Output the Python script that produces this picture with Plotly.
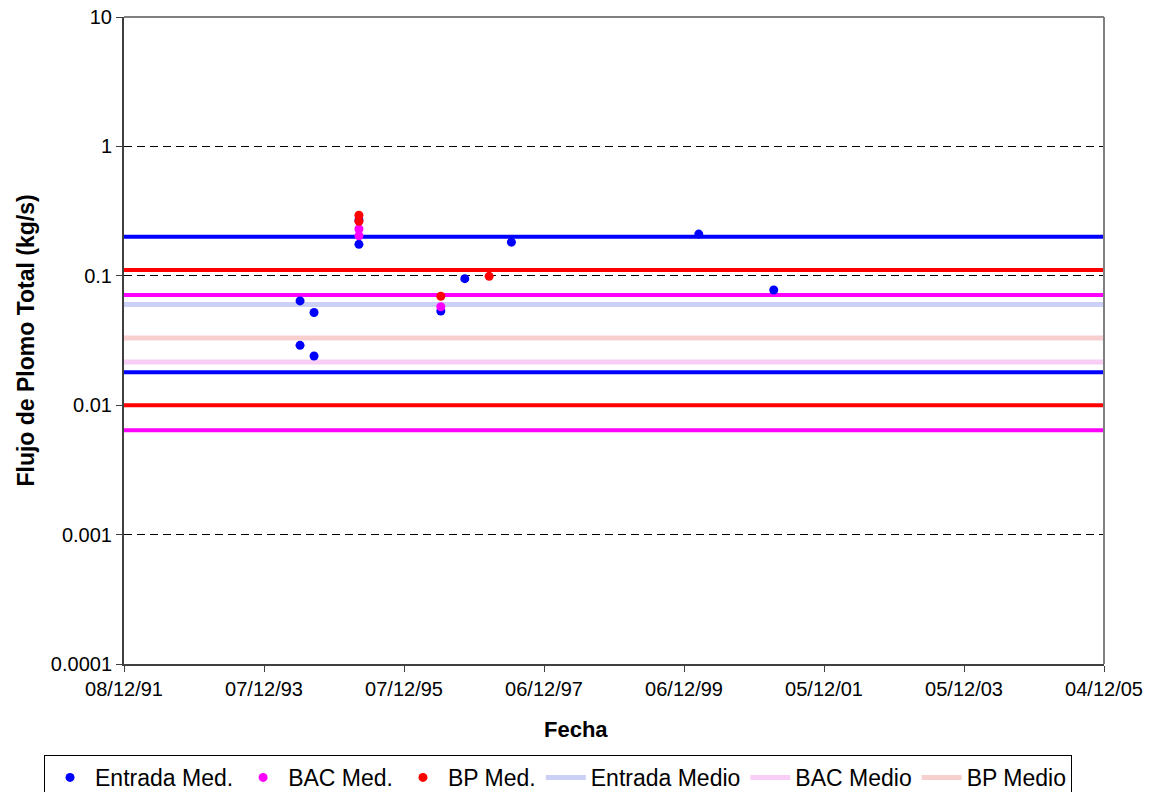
import plotly.graph_objects as go

# ---- data ----
x_start = "1991-12-08"
x_end = "2005-12-04"
x_tick_dates = ["1991-12-08", "1993-12-07", "1995-12-07", "1997-12-06",
                "1999-12-06", "2001-12-05", "2003-12-05", "2005-12-04"]
x_tick_labels = ["08/12/91", "07/12/93", "07/12/95", "06/12/97",
                 "06/12/99", "05/12/01", "05/12/03", "04/12/05"]
y_tick_vals = [0.0001, 0.001, 0.01, 0.1, 1, 10]
y_tick_labels = ["0.0001", "0.001", "0.01", "0.1", "1", "10"]

entrada_dates = ["1994-06-13", "1994-06-13", "1994-08-25", "1994-08-25",
                 "1995-04-16", "1995-04-16", "1996-06-16", "1996-10-19",
                 "1997-06-19", "2000-02-21", "2001-03-18"]
entrada_vals = [0.064, 0.029, 0.052, 0.024, 0.27, 0.175, 0.0534, 0.095,
                0.182, 0.21, 0.0776]
bac_dates = ["1995-04-16", "1995-04-16", "1996-06-16"]
bac_vals = [0.23, 0.204, 0.0577]
bp_dates = ["1995-04-16", "1995-04-16", "1996-06-16", "1997-02-23"]
bp_vals = [0.294, 0.264, 0.0695, 0.099]

entrada_medio = 0.06
bac_medio = 0.0216
bp_medio = 0.033
entrada_limits = [0.2, 0.018]
bac_limits = [0.071, 0.0064]
bp_limits = [0.111, 0.01]

FONT = "Liberation Sans, Arial, sans-serif"
fig = go.Figure()
span = [x_start, x_end]

# limit lines (not in legend)
for lims, col in [(entrada_limits, "#0000ff"), (bp_limits, "#ff0000"),
                  (bac_limits, "#ff00ff")]:
    for v in lims:
        fig.add_trace(go.Scatter(x=span, y=[v, v], mode="lines",
                                 line=dict(color=col, width=4),
                                 showlegend=False, hoverinfo="skip"))

# mean lines
for name, v, col, rank in [("Entrada Medio", entrada_medio, "#cdd0f6", 4),
                           ("BAC Medio", bac_medio, "#f8cdf6", 5),
                           ("BP Medio", bp_medio, "#f8cfcf", 6)]:
    fig.add_trace(go.Scatter(x=span, y=[v, v], mode="lines", name=name,
                             line=dict(color=col, width=5), legendrank=rank))

# measured points
for name, xs, ys, col, rank in [("Entrada Med.", entrada_dates, entrada_vals, "#0000ff", 1),
                                ("BAC Med.", bac_dates, bac_vals, "#ff00ff", 2),
                                ("BP Med.", bp_dates, bp_vals, "#ff0000", 3)]:
    fig.add_trace(go.Scatter(x=xs, y=ys, mode="markers", name=name,
                             marker=dict(color=col, size=9), legendrank=rank))

# top/right frame
fig.add_shape(type="line", xref="paper", yref="paper", x0=0, x1=1, y0=1, y1=1,
              line=dict(color="#808080", width=2))
fig.add_shape(type="line", xref="paper", yref="paper", x0=1, x1=1, y0=0, y1=1,
              line=dict(color="#808080", width=2))

# axis titles as annotations
fig.add_annotation(text="<b>Fecha</b>", xref="paper", yref="paper",
                   x=0.4612, y=-0.102, showarrow=False,
                   xanchor="center", yanchor="middle", font=dict(size=22))
fig.add_annotation(text="<b>Flujo de Plomo Total (kg/s)</b>", xref="paper", yref="paper",
                   x=-0.101, y=0.5, showarrow=False, textangle=-90,
                   xanchor="center", yanchor="middle", font=dict(size=23))

fig.update_layout(
    width=1152, height=792,
    margin=dict(l=116, r=56, t=9, b=136, autoexpand=False),
    paper_bgcolor="white", plot_bgcolor="white",
    font=dict(family=FONT, size=20, color="black"),
    showlegend=True,
    legend=dict(orientation="h", x=-0.0816, xanchor="left",
                y=-0.1406, yanchor="top",
                bordercolor="black", borderwidth=1, bgcolor="white",
                font=dict(size=23), itemwidth=40, tracegroupgap=0,
                traceorder="normal"),
    xaxis=dict(type="date", range=[x_start, x_end], tickmode="array",
               tickvals=x_tick_dates, ticktext=x_tick_labels,
               showgrid=False, zeroline=False, automargin=False,
               showline=True, linecolor="#404040", linewidth=2,
               ticks="outside", ticklen=6, tickcolor="#404040",
               ticklabeloverflow="allow", tickfont=dict(size=20)),
    yaxis=dict(type="log", range=[-4, 1], tickmode="array",
               tickvals=y_tick_vals, ticktext=y_tick_labels,
               showgrid=True, gridcolor="black", gridwidth=1, griddash="8px,5px",
               zeroline=False, automargin=False,
               showline=True, linecolor="#404040", linewidth=2,
               ticks="outside", ticklen=6, tickcolor="#404040",
               ticklabeloverflow="allow", tickfont=dict(size=20)),
)

fig.write_html("out.html")
